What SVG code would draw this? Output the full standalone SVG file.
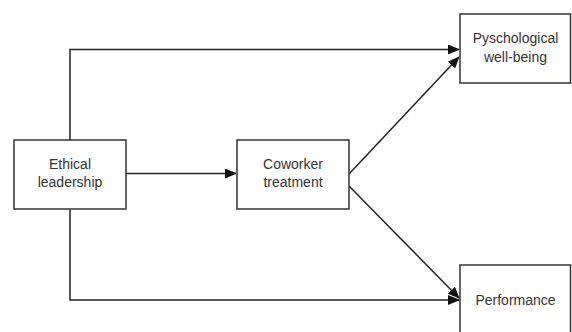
<svg xmlns="http://www.w3.org/2000/svg" width="572" height="332" viewBox="0 0 572 332">
<defs>
<style>
.box{fill:#fff;stroke:#333;stroke-width:1.5}
.lbl{font-family:"Liberation Sans",Arial,sans-serif;font-size:14px;fill:#333;text-anchor:middle}
.edge{fill:none;stroke:#222;stroke-width:1.5;marker-end:url(#arr)}
</style>
<marker id="arr" markerUnits="userSpaceOnUse" markerWidth="12" markerHeight="10" refX="11" refY="5" orient="auto">
<path d="M0,0 L12,5 L0,10 Z" fill="#111"/>
</marker>
</defs>
<rect width="572" height="332" fill="#fff"/>
<g id="connectors">
<path class="edge" d="M70,140 V49.5 H459"/>
<path class="edge" d="M126,173.5 H236"/>
<path class="edge" d="M70,209 V300 H459"/>
<path class="edge" d="M349,174 L459,57"/>
<path class="edge" d="M349,186 L459,298"/>
</g>
<g id="ethical">
<rect class="box" x="14" y="140" width="112" height="69"/>
<text class="lbl" x="70" y="169">Ethical</text>
<text class="lbl" x="70" y="187">leadership</text>
</g>
<g id="coworker">
<rect class="box" x="237" y="140" width="112" height="69"/>
<text class="lbl" x="293" y="169">Coworker</text>
<text class="lbl" x="293" y="187">treatment</text>
</g>
<g id="wellbeing">
<rect class="box" x="460" y="14" width="110.5" height="69"/>
<text class="lbl" x="515.5" y="43">Pyschological</text>
<text class="lbl" x="515.5" y="62">well-being</text>
</g>
<g id="performance">
<rect class="box" x="460" y="265" width="110.5" height="70"/>
<text class="lbl" x="515.5" y="305">Performance</text>
</g>
</svg>
